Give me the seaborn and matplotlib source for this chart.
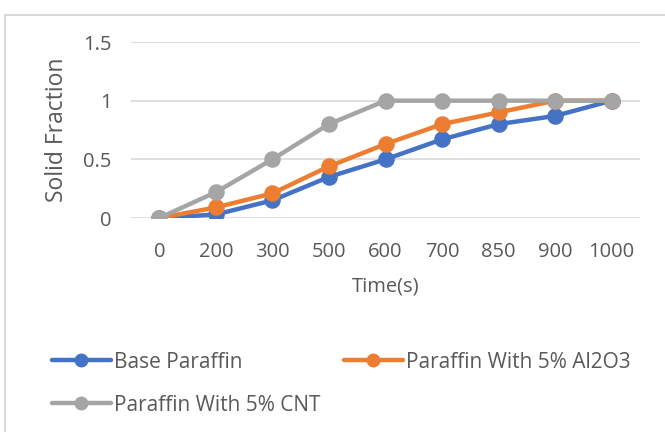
import numpy as np
import pandas as pd
import matplotlib
matplotlib.use("Agg")
import matplotlib.pyplot as plt
import matplotlib.patches as patches
import seaborn as sns

# data
times = ["0", "200", "300", "500", "600", "700", "850", "900", "1000"]
base_paraffin = [0, 0.03, 0.15, 0.35, 0.50, 0.67, 0.80, 0.87, 1.0]
paraffin_al2o3 = [0, 0.09, 0.21, 0.44, 0.63, 0.80, 0.90, 1.0, 1.0]
paraffin_cnt = [0, 0.22, 0.50, 0.80, 1.0, 1.0, 1.0, 1.0, 1.0]
series_names = ["Base Paraffin", "Paraffin With 5% Al2O3", "Paraffin With 5% CNT"]
colors = ["#4472C4", "#ED7D31", "#A5A5A5"]
yticks = [0, 0.5, 1, 1.5]
ytick_labels = ["0", "0.5", "1", "1.5"]

df = pd.concat([
    pd.DataFrame({"time": times, "frac": vals, "series": name})
    for name, vals in zip(series_names, [base_paraffin, paraffin_al2o3, paraffin_cnt])
])

sns.set_style("white")
plt.rcParams["font.family"] = ["Open Sans", "DejaVu Sans"]
txt = "#595959"

fig = plt.figure(figsize=(6.65, 4.32), dpi=100)
ax = fig.add_axes([131/665, 1 - 218/432, 509/665, 176/432])

sns.pointplot(data=df, x="time", y="frac", hue="series", order=times,
              hue_order=series_names, palette=colors, markers="o",
              linestyles="-", errorbar=None, ax=ax,
              markersize=9.5, linewidth=3.2)

ax.set_ylim(0, 1.5)
ax.set_xlim(-0.5, len(times) - 0.5)
ax.set_yticks(yticks)
ax.set_yticklabels(ytick_labels)
ax.grid(axis="y", color="#D9D9D9", linewidth=1.2)
ax.set_axisbelow(True)
for s in ax.spines.values():
    s.set_visible(False)
ax.tick_params(axis="both", length=0, labelsize=14.5, labelcolor=txt)
ax.tick_params(axis="x", pad=17)
ax.tick_params(axis="y", pad=14)
ax.set_xlabel("Time(s)", fontsize=14.5, color=txt, labelpad=11)
ax.set_ylabel("Solid Fraction", fontsize=16.5, color=txt, labelpad=10)

# legend: row-major order like the original
h, l = ax.get_legend_handles_labels()
ax.get_legend().remove()
order = [0, 2, 1]
fig.legend([h[i] for i in order], [l[i] for i in order], ncol=2,
           loc="upper left", bbox_to_anchor=(33/665, 1 - 333/432),
           frameon=False, fontsize=15, labelcolor=txt, handlelength=2.85,
           handletextpad=0.15, columnspacing=1.1, labelspacing=1.05,
           markerscale=0.8)

# outer chart border
fig.patches.append(patches.Rectangle((5/665, -0.2), 2, 1.2 - 15/432, transform=fig.transFigure,
                                     fill=False, edgecolor="#D9D9D9", linewidth=1.5))

fig.savefig("out.png", dpi=100)
